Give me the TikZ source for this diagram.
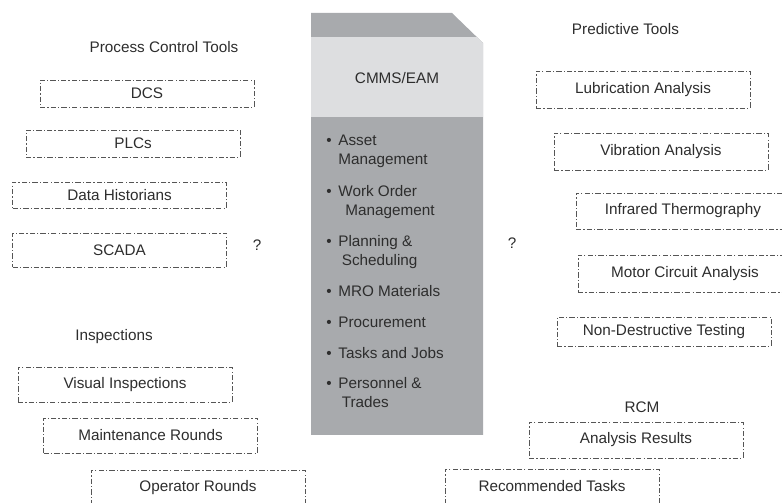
\documentclass[tikz,border=0pt]{standalone}
\usepackage{fontspec}
\setmainfont{Liberation Sans}
\definecolor{blockdark}{RGB}{168,170,173}
\definecolor{blocklight}{RGB}{221,222,224}
\definecolor{textgray}{RGB}{45,45,45}
\definecolor{linegray}{RGB}{85,85,85}

\begin{document}
\begin{tikzpicture}[x=0.02cm, y=-0.02cm,
	every node/.style={text=textgray, font=\fontsize{8.7}{10.8}\selectfont},
	heading/.style={inner sep=0pt},
	tool/.style={draw=linegray, line width=0.5pt,
		dash pattern=on 3pt off 1.2pt on 0.7pt off 1.2pt,
		minimum width=4.28cm, minimum height=0.7cm, inner sep=0pt}]
	\def\bl{311} %Block links
	\def\br{483} %Block rechts
	\def\bt{13}  %Block oben
	\def\bb{435} %Block unten
	
	\useasboundingbox (0,0) rectangle (782,503);
	\clip (0,0) rectangle (782,503);
	
	%CMMS Block
	\fill[blockdark] (\bl,\bt) -- (452,\bt) -- (\br,43) -- (\br,\bb) -- (\bl,\bb) -- cycle;
	\begin{scope}
		\clip (\bl,\bt) -- (452,\bt) -- (\br,43) -- (\br,\bb) -- (\bl,\bb) -- cycle;
		\fill[blocklight] (\bl,37) rectangle (\br,117);
	\end{scope}
	\node[heading] (cmms) at (397,78) {CMMS/EAM};
	
	%Listenpunkte (\n = weitere Zeilen)
	\foreach \y/\n/\txt [count=\i] in {140/1/{Asset\\Management},
		191/1/{Work Order\\\hspace{4pt}Management},
		241/1/{Planning \&\\\hspace{2pt}Scheduling},
		291/0/{MRO Materials}, 322/0/{Procurement}, 353/0/{Tasks and Jobs},
		383/1/{Personnel \&\\\hspace{2pt}Trades}}
	{
		\node[heading, anchor=base west] (bu\i) at (326,\y+5.5) {\textbullet};
		\node[heading, anchor=base west, align=left] (item\i) at (338,\y+5.5+19*\n) {\txt};
	}
	
	%Process Control Tools
	\node[heading] (pct) at (164,47) {Process Control Tools};
	\node[tool, minimum height=0.54cm] (dcs) at (147,93.5) {DCS};
	\node[tool, minimum height=0.54cm] (plc) at (133,143.5) {PLCs};
	\node[tool, minimum height=0.52cm] (hist) at (119.5,195) {Data Historians};
	\node[tool, minimum height=0.68cm] (scada) at (119.5,250) {SCADA};
	\node[heading] (q1) at (257,245) {?};
	
	%Inspections
	\node[heading] (insp) at (114,337) {Inspections};
	\node[tool] (visual) at (125,384.5) {Visual Inspections};
	\node[tool] (maint) at (150.5,435.5) {Maintenance Rounds};
	\node[tool] (oper) at (198,487.5) {Operator Rounds};
	
	%Predictive Tools
	\node[heading] (pred) at (625.5,29) {Predictive Tools};
	\node[tool, minimum height=0.74cm] (lub) at (643,89.5) {Lubrication Analysis};
	\node[tool, minimum height=0.74cm] (vib) at (661,151.5) {Vibration Analysis};
	\node[tool, minimum height=0.72cm] (ir) at (683,211) {Infrared Thermography};
	\node[tool, minimum height=0.74cm] (mca) at (685,273.5) {Motor Circuit Analysis};
	\node[tool, minimum height=0.58cm] (ndt) at (664,331.5) {Non-Destructive Testing};
	\node[heading] (q2) at (512,243) {?};
	
	%RCM
	\node[heading] (rcm) at (642,407) {RCM};
	\node[tool, minimum height=0.72cm] (res) at (636,440) {Analysis Results};
	\node[tool] (rec) at (552,486.5) {Recommended Tasks};
	
\end{tikzpicture}
\end{document}
